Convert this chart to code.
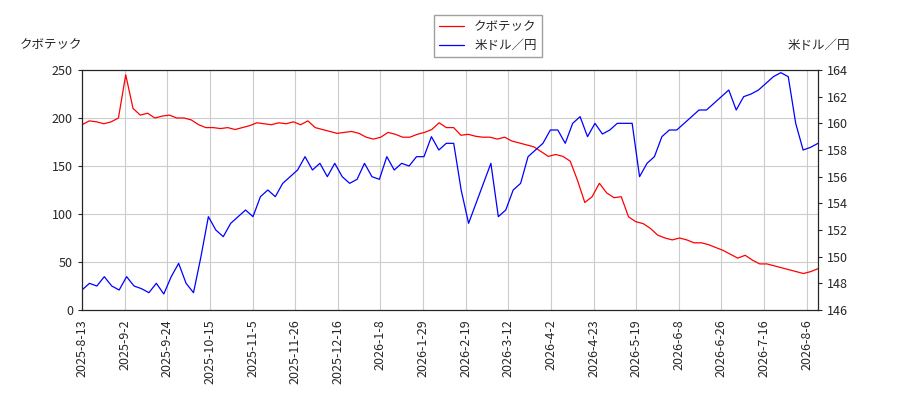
import numpy as np, pandas as pd, matplotlib
matplotlib.use("Agg")
import matplotlib.pyplot as plt, seaborn as sns

tick_labels = ["2025-8-13","2025-9-2","2025-9-24","2025-10-15","2025-11-5","2025-11-26","2025-12-16","2026-1-8","2026-1-29","2026-2-19","2026-3-12","2026-4-2","2026-4-23","2026-5-19","2026-6-8","2026-6-26","2026-7-16","2026-8-6"]
kubotek = [193,197,196,194,196,200,245,210,203,205,200,202,203,200,200,198,193,190,190,189,190,188,190,192,195,194,193,195,194,196,193,197,190,188,186,184,185,186,184,180,178,180,185,183,180,180,183,185,188,195,190,190,182,183,181,180,180,178,180,176,174,172,170,165,160,162,160,155,135,112,118,132,122,117,118,97,92,90,85,78,75,73,75,73,70,70,68,65,62,58,54,57,52,48,48,46,44,42,40,38,40,43]
usdjpy = [147.5,148,147.8,148.5,147.8,147.5,148.5,147.8,147.6,147.3,148,147.2,148.5,149.5,148,147.3,150,153,152,151.5,152.5,153,153.5,153,154.5,155,154.5,155.5,156,156.5,157.5,156.5,157,156,157,156,155.5,155.8,157,156,155.8,157.5,156.5,157,156.8,157.5,157.5,159,158,158.5,158.5,155,152.5,154,155.5,157,153,153.5,155,155.5,157.5,158,158.5,159.5,159.5,158.5,160,160.5,159,160,159.2,159.5,160,160,160,156,157,157.5,159,159.5,159.5,160,160.5,161,161,161.5,162,162.5,161,162,162.2,162.5,163,163.5,163.8,163.5,160,158,158.2,158.5]

sns.set_style("white")
plt.rcParams['font.family'] = ['Noto Sans CJK JP', 'DejaVu Sans']
fig = plt.figure(figsize=(9, 4), dpi=100)
ax = fig.add_axes([82/900, 90/400, 736/900, 240/400])
ax2 = ax.twinx()
N = 259
d1 = pd.DataFrame({"x": np.linspace(0, N, len(kubotek)), "y": kubotek})
d2 = pd.DataFrame({"x": np.linspace(0, N, len(usdjpy)), "y": usdjpy})
sns.lineplot(data=d1, x="x", y="y", ax=ax, color="red", lw=0.9, label="クボテック", legend=False)
sns.lineplot(data=d2, x="x", y="y", ax=ax2, color="blue", lw=0.9, label="米ドル／円", legend=False)
ax.set_xlim(0, N); ax.set_ylim(0, 250); ax2.set_ylim(146, 164)
ax.set_xticks([i*15 for i in range(len(tick_labels))])
ax.set_xticklabels(tick_labels, rotation=90, fontsize=8)
ax.set_yticks(range(0, 251, 50)); ax2.set_yticks(range(146, 165, 2))
ax.tick_params(labelsize=9, length=3); ax2.tick_params(labelsize=9, length=3)
ax.grid(True, color="#cccccc", lw=0.8)
ax.set_xlabel(""); ax.set_ylabel(""); ax2.set_ylabel("")
for s in ax.spines.values(): s.set_color("black")
fig.text(20/900, 1-45/400, "クボテック", fontsize=9, va="center")
fig.text(850/900, 1-45/400, "米ドル／円", fontsize=9, va="center", ha="right")
h = ax.get_lines()[:1] + ax2.get_lines()[:1]
fig.legend(h, ["クボテック", "米ドル／円"], loc="center", bbox_to_anchor=(488/900, 1-36/400), fontsize=9, fancybox=False, edgecolor="#888888")
fig.savefig("out.png")
